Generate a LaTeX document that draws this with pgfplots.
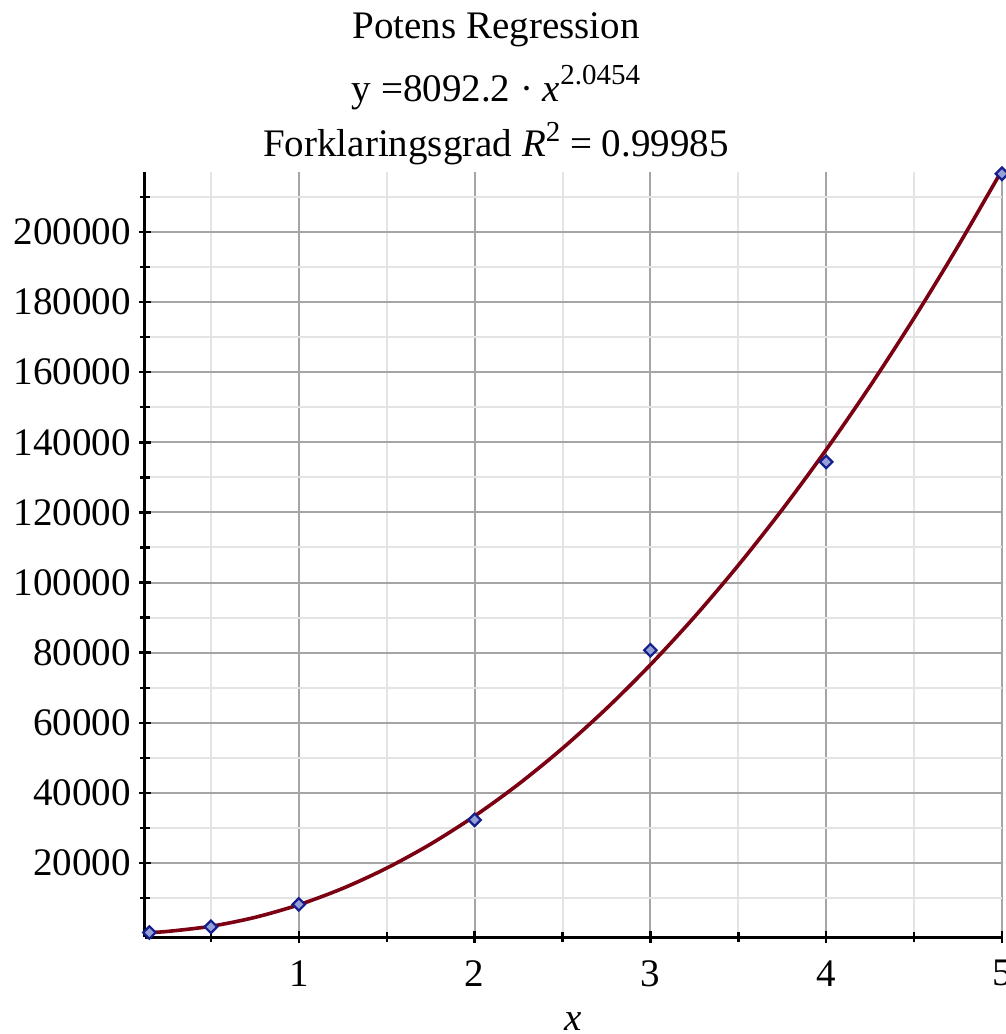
\documentclass[border=0pt]{standalone}
\usepackage{fontspec}
\setmainfont{Liberation Serif}
\usepackage{pgfplots}
\pgfplotsset{compat=1.18}
\definecolor{curvered}{RGB}{122,0,18}
\definecolor{ptblue}{RGB}{20,30,140}
\definecolor{ptfill}{RGB}{150,160,215}
\definecolor{majgrid}{RGB}{165,165,165}
\definecolor{mingrid}{RGB}{228,228,228}
\begin{document}
\fontsize{19.5}{23}\selectfont
\begin{tikzpicture}
\useasboundingbox (-72.5pt,-48.5pt) rectangle (430.5pt,468.5pt);
\begin{axis}[
  at={(0,0)}, anchor=south west,
  scale only axis, width=428.5pt, height=382.5pt,
  xmin=0.125, xmax=5, ymin=-1100, ymax=217100,
  axis x line=bottom, axis y line=left,
  axis line style={-, line width=1.5pt, black},
  xtick={1,2,3,4,5}, xticklabels={1,2,3,4,5},
  minor xtick={0.5,1.5,2.5,3.5,4.5},
  ytick={20000,40000,60000,80000,100000,120000,140000,160000,180000,200000},
  yticklabels={20000,40000,60000,80000,100000,120000,140000,160000,180000,200000},
  minor ytick={10000,30000,50000,70000,90000,110000,130000,150000,170000,190000,210000},
  scaled y ticks=false,
  tick align=center, major tick length=6pt, minor tick length=5pt,
  every tick/.style={black, line width=1.2pt},
  grid=both,
  major grid style={majgrid, line width=1pt},
  minor grid style={mingrid, line width=1pt},
  ticklabel style={font=\fontsize{19.5}{23}\selectfont},
  yticklabel style={xshift=2.5pt},
  xticklabel style={yshift=-2pt},
  xlabel={\textit{x}},
  xlabel style={font=\fontsize{19.5}{23}\selectfont},
  clip=true,
]
\addplot[curvered, line width=1.8pt, smooth, no marks] coordinates {
(0.125,115) (0.25,475) (0.5,1960) (0.75,4493) (1,8092) (1.25,12773)
(1.5,18546) (1.75,25420) (2,33404) (2.25,42503) (2.5,52725) (2.75,64073)
(3,76555) (3.25,90172) (3.5,104931) (3.75,120835) (4,137888) (4.25,156090)
(4.5,175448) (4.75,195965) (5,217641)
};
\addplot[only marks, mark=square*, mark size=2.2pt,
  mark options={rotate=45, draw=ptblue, fill=ptfill, line width=1.1pt}] coordinates {
(0.15,170) (0.5,1800) (1,8200) (2,32300) (3,80700) (4,134400) (5,216600)
};
\end{axis}
\node[anchor=base] at (175.5pt,449pt) {Potens Regression};
\node[anchor=base] at (175.5pt,417.5pt) {y =8092.2 · \textit{x}\raisebox{8.5pt}{\fontsize{14.5}{15}\selectfont 2.0454}};
\node[anchor=base] at (175.5pt,390pt) {Forklaringsgrad \textit{R}\raisebox{7.5pt}{\fontsize{14.5}{15}\selectfont 2} = 0.99985};
\end{tikzpicture}
\end{document}
